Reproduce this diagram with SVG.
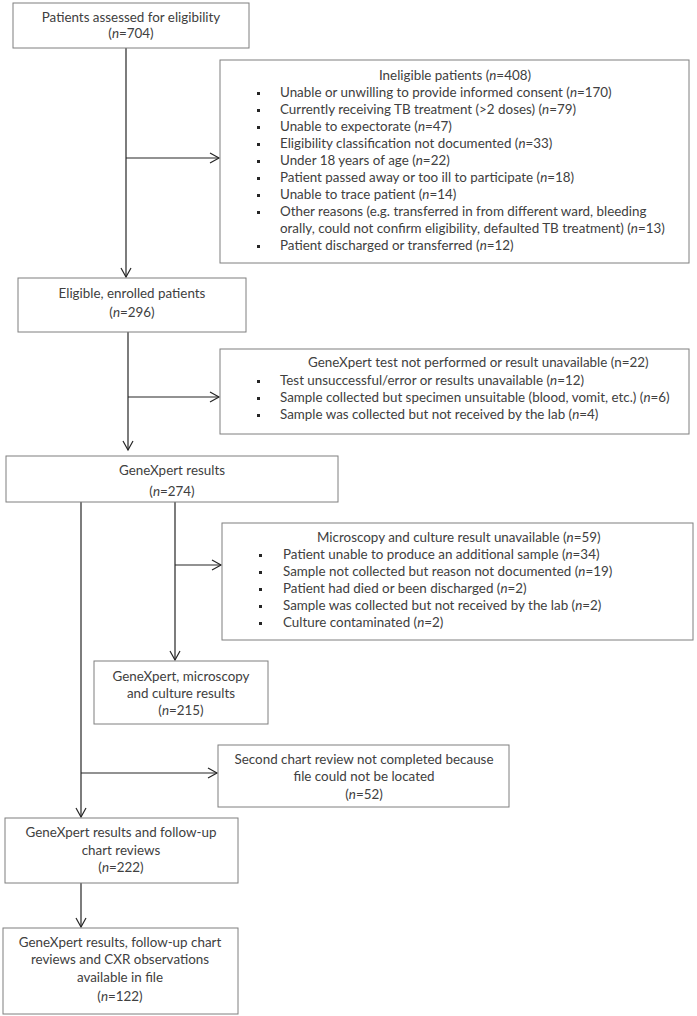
<svg xmlns="http://www.w3.org/2000/svg" width="697" height="1016" viewBox="0 0 697 1016">
<style>
text{font-family:Lato,"Open Sans","Liberation Sans",sans-serif;font-size:13.4px;fill:#404040}
.c{text-anchor:middle}
.box{fill:#fff;stroke:#7f7f7f;stroke-width:1}
.ln{stroke:#262626;stroke-width:1.2;fill:none}
.b{fill:#262626}
tspan.i{font-style:italic}
</style>
<defs>
<marker id="arr" markerWidth="12" markerHeight="12" refX="10" refY="5" orient="auto" markerUnits="userSpaceOnUse" viewBox="0 0 12 10">
<path d="M1,0 L10,5 L1,10" fill="none" stroke="#262626" stroke-width="1.2"/>
</marker>
</defs>
<rect width="697" height="1016" fill="#fff"/>
<g id="connectors">
<line class="ln" x1="126" y1="48" x2="126" y2="277" marker-end="url(#arr)"/>
<line class="ln" x1="126" y1="158" x2="219" y2="158" marker-end="url(#arr)"/>
<line class="ln" x1="128" y1="332" x2="128" y2="450" marker-end="url(#arr)"/>
<line class="ln" x1="128" y1="397" x2="219" y2="397" marker-end="url(#arr)"/>
<line class="ln" x1="175" y1="502" x2="175" y2="660" marker-end="url(#arr)"/>
<line class="ln" x1="175" y1="565" x2="221" y2="565" marker-end="url(#arr)"/>
<line class="ln" x1="81" y1="502" x2="81" y2="817" marker-end="url(#arr)"/>
<line class="ln" x1="81" y1="773" x2="217" y2="773" marker-end="url(#arr)"/>
<line class="ln" x1="81" y1="883" x2="81" y2="927" marker-end="url(#arr)"/>
</g>
<g id="assessed">
<rect class="box" x="13" y="3" width="236" height="45"/>
<text class="c" x="131" y="22">Patients assessed for eligibility</text>
<text class="c" x="131" y="38">(<tspan class="i">n</tspan>=704)</text>
</g>
<g id="ineligible">
<rect class="box" x="220" y="60" width="469" height="203"/>
<text class="c" x="455" y="80">Ineligible patients (<tspan class="i">n</tspan>=408)</text>
<g>
<rect class="b" x="257" y="92" width="3" height="3"/><text x="280" y="97">Unable or unwilling to provide informed consent (<tspan class="i">n</tspan>=170)</text>
<rect class="b" x="257" y="109" width="3" height="3"/><text x="280" y="114">Currently receiving TB treatment (&gt;2 doses) (<tspan class="i">n</tspan>=79)</text>
<rect class="b" x="257" y="126" width="3" height="3"/><text x="280" y="131">Unable to expectorate (<tspan class="i">n</tspan>=47)</text>
<rect class="b" x="257" y="143" width="3" height="3"/><text x="280" y="148">Eligibility classification not documented (<tspan class="i">n</tspan>=33)</text>
<rect class="b" x="257" y="160" width="3" height="3"/><text x="280" y="165">Under 18 years of age (<tspan class="i">n</tspan>=22)</text>
<rect class="b" x="257" y="177" width="3" height="3"/><text x="280" y="182">Patient passed away or too ill to participate (<tspan class="i">n</tspan>=18)</text>
<rect class="b" x="257" y="194" width="3" height="3"/><text x="280" y="199">Unable to trace patient (<tspan class="i">n</tspan>=14)</text>
<rect class="b" x="257" y="211" width="3" height="3"/><text x="280" y="216">Other reasons (e.g. transferred in from different ward, bleeding</text>
<text x="280" y="233">orally, could not confirm eligibility, defaulted TB treatment) (<tspan class="i">n</tspan>=13)</text>
<rect class="b" x="257" y="245" width="3" height="3"/><text x="280" y="250">Patient discharged or transferred (<tspan class="i">n</tspan>=12)</text>
</g>
</g>
<g id="eligible">
<rect class="box" x="18" y="278" width="228" height="54"/>
<text class="c" x="132" y="298">Eligible, enrolled patients</text>
<text class="c" x="132" y="317">(<tspan class="i">n</tspan>=296)</text>
</g>
<g id="notperformed">
<rect class="box" x="220" y="349" width="469" height="85"/>
<text x="308" y="367">GeneXpert test not performed or result unavailable (n=22)</text>
<rect class="b" x="257" y="380" width="3" height="3"/><text x="280" y="385">Test unsuccessful/error or results unavailable (<tspan class="i">n</tspan>=12)</text>
<rect class="b" x="257" y="397" width="3" height="3"/><text x="280" y="402">Sample collected but specimen unsuitable (blood, vomit, etc.) (<tspan class="i">n</tspan>=6)</text>
<rect class="b" x="257" y="414" width="3" height="3"/><text x="280" y="419">Sample was collected but not received by the lab (<tspan class="i">n</tspan>=4)</text>
</g>
<g id="genexpert">
<rect class="box" x="6" y="456" width="332" height="46"/>
<text class="c" x="172" y="475">GeneXpert results</text>
<text class="c" x="172" y="496">(<tspan class="i">n</tspan>=274)</text>
</g>
<g id="microscopy">
<rect class="box" x="222" y="523" width="471" height="117"/>
<text x="317" y="542">Microscopy and culture result unavailable (<tspan class="i">n</tspan>=59)</text>
<rect class="b" x="259" y="554" width="3" height="3"/><text x="283" y="559">Patient unable to produce an additional sample (<tspan class="i">n</tspan>=34)</text>
<rect class="b" x="259" y="571" width="3" height="3"/><text x="283" y="576">Sample not collected but reason not documented (<tspan class="i">n</tspan>=19)</text>
<rect class="b" x="259" y="588" width="3" height="3"/><text x="283" y="593">Patient had died or been discharged (<tspan class="i">n</tspan>=2)</text>
<rect class="b" x="259" y="605" width="3" height="3"/><text x="283" y="610">Sample was collected but not received by the lab (<tspan class="i">n</tspan>=2)</text>
<rect class="b" x="259" y="622" width="3" height="3"/><text x="283" y="627">Culture contaminated (<tspan class="i">n</tspan>=2)</text>
</g>
<g id="allresults">
<rect class="box" x="94" y="661" width="174" height="63"/>
<text class="c" x="181" y="681">GeneXpert, microscopy</text>
<text class="c" x="181" y="698">and culture results</text>
<text class="c" x="181" y="715">(<tspan class="i">n</tspan>=215)</text>
</g>
<g id="secondreview">
<rect class="box" x="218" y="745" width="291" height="62"/>
<text class="c" x="364" y="764">Second chart review not completed because</text>
<text class="c" x="364" y="781">file could not be located</text>
<text class="c" x="364" y="799">(<tspan class="i">n</tspan>=52)</text>
</g>
<g id="followup">
<rect class="box" x="5" y="818" width="233" height="65"/>
<text class="c" x="121" y="837">GeneXpert results and follow-up</text>
<text class="c" x="121" y="855">chart reviews</text>
<text class="c" x="121" y="872">(<tspan class="i">n</tspan>=222)</text>
</g>
<g id="cxr">
<rect class="box" x="3" y="928" width="235" height="86"/>
<text class="c" x="120" y="947">GeneXpert results, follow-up chart</text>
<text class="c" x="120" y="964">reviews and CXR observations</text>
<text class="c" x="120" y="982">available in file</text>
<text class="c" x="120" y="1001">(<tspan class="i">n</tspan>=122)</text>
</g>
</svg>
